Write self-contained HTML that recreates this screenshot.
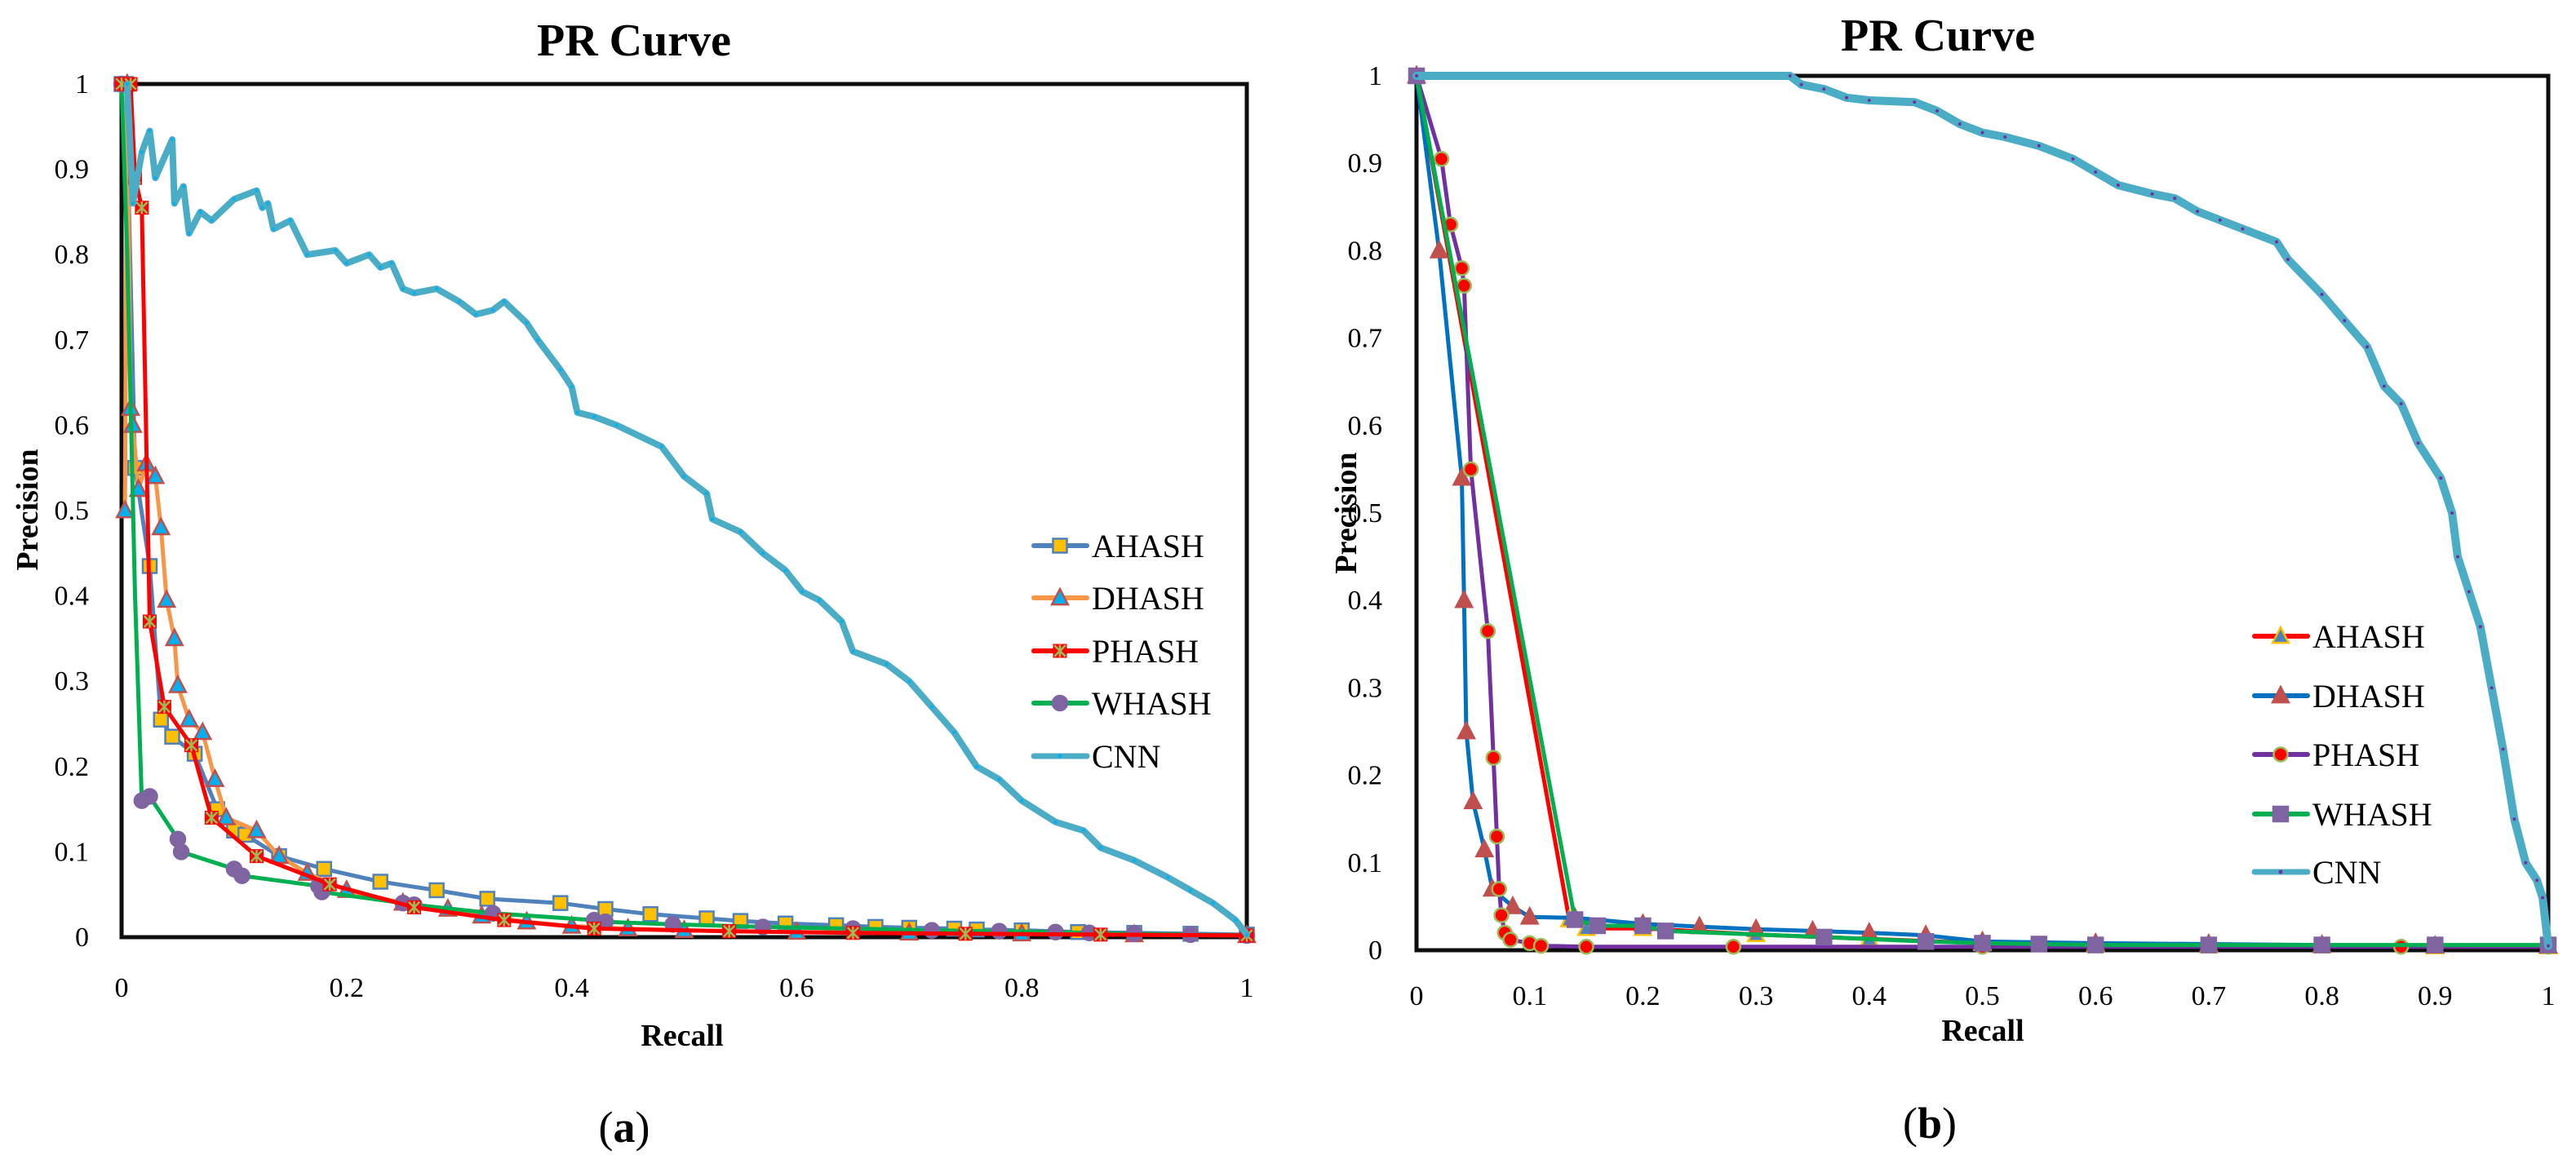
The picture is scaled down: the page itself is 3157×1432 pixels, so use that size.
<!DOCTYPE html>
<html><head><meta charset="utf-8"><style>
html,body{margin:0;padding:0;background:#fff;}
svg{display:block;font-family:"Liberation Serif",serif;}
</style></head><body>
<svg id="svg" width="3157" height="1432" viewBox="0 0 3157 1432" xmlns="http://www.w3.org/2000/svg">
<rect width="3157" height="1432" fill="#fff"/>
<g id="chartA"></g>
<g id="chartB"></g>
</svg>
<script>
// ---- Chart A data ----
const aTicksX = [0,0.2,0.4,0.6,0.8,1];
const aTicksXLabels = ["0","0.2","0.4","0.6","0.8","1"];
const aTicksY = [0,0.1,0.2,0.3,0.4,0.5,0.6,0.7,0.8,0.9,1];
const aTicksYLabels = ["0","0.1","0.2","0.3","0.4","0.5","0.6","0.7","0.8","0.9","1"];
const aCnnR = [0.005,0.01,0.018,0.025,0.03,0.045,0.047,0.055,0.06,0.07,0.08,0.1,0.12,0.125,0.13,0.135,0.15,0.165,0.19,0.2,0.22,0.23,0.24,0.25,0.26,0.28,0.3,0.315,0.33,0.34,0.36,0.37,0.39,0.4,0.405,0.42,0.44,0.48,0.5,0.52,0.525,0.55,0.57,0.59,0.605,0.62,0.64,0.65,0.68,0.7,0.72,0.74,0.76,0.78,0.8,0.83,0.855,0.87,0.9,0.93,0.95,0.97,0.99,1];
const aCnnP = [1,0.86,0.92,0.945,0.89,0.935,0.86,0.88,0.825,0.85,0.84,0.865,0.875,0.855,0.86,0.83,0.84,0.8,0.805,0.79,0.8,0.785,0.79,0.76,0.755,0.76,0.745,0.73,0.735,0.745,0.72,0.7,0.665,0.645,0.615,0.61,0.6,0.575,0.54,0.52,0.49,0.475,0.45,0.43,0.405,0.395,0.37,0.335,0.32,0.3,0.27,0.24,0.2,0.185,0.16,0.135,0.125,0.105,0.09,0.07,0.055,0.04,0.02,0.003];
const aAhR = [0,0.004,0.012,0.025,0.035,0.045,0.065,0.085,0.1,0.11,0.14,0.18,0.23,0.28,0.325,0.39,0.43,0.47,0.52,0.55,0.59,0.635,0.67,0.7,0.74,0.76,0.8,0.85,0.9,0.95,1];
const aAhP = [1,1,0.55,0.435,0.255,0.235,0.215,0.15,0.125,0.12,0.095,0.08,0.065,0.055,0.045,0.04,0.033,0.027,0.022,0.019,0.016,0.014,0.012,0.011,0.01,0.009,0.008,0.006,0.005,0.004,0.003];
const aDhR = [0.003,0.005,0.008,0.01,0.015,0.022,0.03,0.035,0.04,0.047,0.05,0.06,0.072,0.083,0.093,0.12,0.14,0.165,0.2,0.25,0.29,0.32,0.36,0.4,0.45,0.5,0.6,0.7,0.8,0.9,1];
const aDhP = [0.5,1,0.62,0.6,0.525,0.555,0.54,0.48,0.395,0.35,0.295,0.255,0.24,0.185,0.14,0.125,0.095,0.075,0.055,0.04,0.033,0.025,0.018,0.013,0.01,0.008,0.006,0.005,0.004,0.003,0.002];
const aPhR = [0,0.008,0.012,0.018,0.025,0.038,0.062,0.08,0.12,0.185,0.26,0.34,0.42,0.54,0.65,0.75,0.87,1];
const aPhP = [1,1,0.89,0.855,0.37,0.27,0.225,0.14,0.095,0.062,0.035,0.02,0.01,0.007,0.005,0.004,0.003,0.002];
const aWhR = [0,0.005,0.012,0.018,0.025,0.05,0.053,0.1,0.107,0.175,0.178,0.25,0.26,0.33,0.42,0.43,0.49,0.57,0.65,0.72,0.78,0.83,0.86,0.9,0.95,1];
const aWhP = [1,0.8,0.4,0.16,0.165,0.115,0.1,0.08,0.072,0.06,0.053,0.04,0.038,0.028,0.02,0.018,0.015,0.012,0.01,0.008,0.007,0.006,0.005,0.004,0.003,0.002];

// ---- Chart B data ----
const bTicksX = [0,0.1,0.2,0.3,0.4,0.5,0.6,0.7,0.8,0.9,1];
const bTicksXLabels = ["0","0.1","0.2","0.3","0.4","0.5","0.6","0.7","0.8","0.9","1"];
const bTicksY = [0,0.1,0.2,0.3,0.4,0.5,0.6,0.7,0.8,0.9,1];
const bTicksYLabels = ["0","0.1","0.2","0.3","0.4","0.5","0.6","0.7","0.8","0.9","1"];
const bCnnR = [0,0.33,0.34,0.36,0.38,0.4,0.44,0.46,0.48,0.5,0.52,0.55,0.58,0.6,0.62,0.65,0.67,0.69,0.71,0.73,0.76,0.77,0.8,0.82,0.84,0.855,0.87,0.885,0.905,0.915,0.92,0.93,0.94,0.95,0.96,0.97,0.98,0.99,0.995,1];
const bCnnP = [1,1,0.99,0.985,0.975,0.972,0.97,0.96,0.945,0.935,0.93,0.92,0.905,0.89,0.875,0.865,0.86,0.845,0.835,0.825,0.81,0.79,0.75,0.72,0.69,0.645,0.625,0.58,0.54,0.5,0.45,0.41,0.37,0.3,0.23,0.15,0.1,0.08,0.06,0.005];
const bAhR = [0,0.135,0.15,0.2,0.3,0.4,0.5,0.6,0.7,0.8,0.9,1];
const bAhP = [1,0.035,0.025,0.025,0.018,0.013,0.008,0.006,0.005,0.005,0.004,0.004];
const bDhR = [0,0.02,0.04,0.042,0.044,0.05,0.06,0.067,0.085,0.1,0.14,0.2,0.25,0.3,0.35,0.4,0.45,0.5,0.6,0.7,0.8,0.9,1];
const bDhP = [1,0.8,0.54,0.4,0.25,0.17,0.115,0.07,0.05,0.038,0.037,0.03,0.027,0.024,0.022,0.02,0.017,0.01,0.008,0.007,0.006,0.005,0.005];
const bPhR = [0,0.022,0.03,0.04,0.042,0.048,0.063,0.068,0.071,0.073,0.075,0.078,0.083,0.1,0.11,0.15,0.28,0.5,0.87,1];
const bPhP = [1,0.905,0.83,0.78,0.76,0.55,0.365,0.22,0.13,0.07,0.04,0.02,0.012,0.008,0.005,0.004,0.004,0.004,0.004,0.004];
const bWhR = [0,0.14,0.16,0.2,0.22,0.36,0.45,0.5,0.55,0.6,0.7,0.8,0.9,1];
const bWhP = [1,0.035,0.028,0.028,0.022,0.015,0.01,0.008,0.007,0.006,0.006,0.006,0.006,0.006];

const NS = "http://www.w3.org/2000/svg";
function mk(parent, tag, attrs){ const e=document.createElementNS(NS,tag); for(const k in attrs) e.setAttribute(k,attrs[k]); parent.appendChild(e); return e; }

function marker(g, shape, x, y, s, fill, stroke){
  let e;
  if(shape==="square"){ e=mk(g,"rect",{x:x-s/2,y:y-s/2,width:s,height:s,fill:fill,stroke:stroke,"stroke-width":2.5}); }
  else if(shape==="tri"){ e=mk(g,"polygon",{points:`${x},${y-s*0.6} ${x-s*0.55},${y+s*0.45} ${x+s*0.55},${y+s*0.45}`,fill:fill,stroke:stroke,"stroke-width":2.5}); }
  else if(shape==="xsq"){ e=mk(g,"g",{});
    mk(e,"rect",{x:x-s/2,y:y-s/2,width:s,height:s,fill:fill});
    mk(e,"path",{d:`M${x-s*0.4},${y-s*0.4}L${x+s*0.4},${y+s*0.4}M${x+s*0.4},${y-s*0.4}L${x-s*0.4},${y+s*0.4}M${x},${y-s*0.45}L${x},${y+s*0.45}`,stroke:stroke,"stroke-width":2.5}); }
  else if(shape==="circ"){ e=mk(g,"circle",{cx:x,cy:y,r:s/2,fill:fill,stroke:stroke,"stroke-width":2.5}); }
  else { e=mk(g,"circle",{cx:x,cy:y,r:s/2,fill:fill}); }
  return e;
}

function drawChart(root, cfg){
  const sx = v => cfg.x0 + v*(cfg.x1-cfg.x0);
  const sy = v => cfg.y0 - v*(cfg.y0-cfg.y1);
  const fr = mk(root,"rect",{x:cfg.x0,y:cfg.y1,width:cfg.x1-cfg.x0,height:cfg.y0-cfg.y1,fill:"none",stroke:"#0d0d0d","stroke-width":5});
  
  
  cfg.ticksY.forEach((v,i)=>{
    const t=mk(root,"text",{x:cfg.x0-cfg.yLabOff,y:sy(v)+11,"font-size":34,"text-anchor":"end",fill:"#000"});
    t.textContent=cfg.ticksYLabels[i];
    
    
  });
  cfg.ticksX.forEach((v,i)=>{
    const t=mk(root,"text",{x:sx(v),y:cfg.xLabY,"font-size":34,"text-anchor":"middle",fill:"#000"});
    t.textContent=cfg.ticksXLabels[i];
    
    
  });
  cfg.series.forEach(s=>{
    const g=mk(root,"g",{});
    
    
    const d=s.r.map((r,i)=>(i?"L":"M")+sx(r).toFixed(1)+","+sy(s.p[i]).toFixed(1)).join("");
    const p=mk(g,"path",{d:d,fill:"none",stroke:s.color,"stroke-width":s.w,"stroke-linejoin":"round","stroke-linecap":"round"});
    
    
    s.r.forEach((r,i)=>{
      if(s.skip && s.skip.indexOf(i)>=0) return;
      const m=marker(g,s.shape,sx(r),sy(s.p[i]),s.ms,s.mfill,s.mstroke);
      
      
    });
  });
  const lg=mk(root,"g",{});
  
  
  cfg.legendOrder.forEach((idx,k)=>{
    const s=cfg.series[idx];
    const y=cfg.legY[k];
    const e=mk(lg,"g",{});
    
    
    mk(e,"line",{x1:cfg.legX,y1:y,x2:cfg.legX+65,y2:y,stroke:s.color,"stroke-width":s.name==="CNN"?7:6,"stroke-linecap":"round"});
    marker(e,s.shape,cfg.legX+32,y,s.name==="CNN"?5:s.ms,s.mfill,s.mstroke);
    const t=mk(e,"text",{x:cfg.legX+71,y:y+14,"font-size":40,fill:"#000"});
    t.textContent=s.name;
  });
  const tt=mk(root,"text",{x:cfg.titleX,y:cfg.titleY,"font-size":56,"font-weight":"bold","text-anchor":"middle",fill:"#000"});
  tt.textContent="PR Curve";
  
  
  const xt=mk(root,"text",{x:cfg.recX,y:cfg.recY,"font-size":38,"font-weight":"bold","text-anchor":"middle",fill:"#000"});
  xt.textContent="Recall";
  
  
  const yt=mk(root,"text",{x:0,y:0,"font-size":38,"font-weight":"bold","text-anchor":"middle",fill:"#000",transform:`translate(${cfg.preX},${cfg.preY}) rotate(-90)`});
  yt.textContent="Precision";
  
  
  const sl=mk(root,"text",{x:cfg.subX,y:cfg.subY,"font-size":54,"text-anchor":"middle",fill:"#000"});
  sl.innerHTML='(<tspan font-weight="bold">'+cfg.sub+'</tspan>)';
  
  
}

drawChart(document.getElementById("chartA"),{
  x0:149,x1:1528,y0:1149,y1:103,yLabOff:40,xLabY:1222,
  ticksX:aTicksX,ticksXLabels:aTicksXLabels,ticksY:aTicksY,ticksYLabels:aTicksYLabels,
  series:[
    {name:"AHASH",r:aAhR,p:aAhP,color:"#4F81BD",w:5,shape:"square",ms:17,mfill:"#FFC000",mstroke:"#4F81BD"},
    {name:"DHASH",r:aDhR,p:aDhP,color:"#F79646",w:5,shape:"tri",ms:18,mfill:"#00B0F0",mstroke:"#C0504D"},
    {name:"WHASH",r:aWhR,p:aWhP,color:"#00B050",w:5,shape:"circ",ms:18,mfill:"#8064A2",mstroke:"#8064A2",skip:[1,2]},
    {name:"PHASH",r:aPhR,p:aPhP,color:"#FF0000",w:5,shape:"xsq",ms:17,mfill:"#FF0000",mstroke:"#9BBB59"},
    {name:"CNN",r:aCnnR,p:aCnnP,color:"#4BACC6",w:8,shape:"dot",ms:4,mfill:"#00B0F0",mstroke:"none"}
  ],
  legendOrder:[0,1,3,2,4], legX:1267, legY:[669,733,798,862,927],
  titleX:777,titleY:68,recX:836,recY:1282,preX:46,preY:625,subX:765,subY:1400,sub:"a"
});

drawChart(document.getElementById("chartB"),{
  x0:1736,x1:3123,y0:1165,y1:93,yLabOff:42,xLabY:1232,
  ticksX:bTicksX,ticksXLabels:bTicksXLabels,ticksY:bTicksY,ticksYLabels:bTicksYLabels,
  series:[
    {name:"AHASH",r:bAhR,p:bAhP,color:"#FF0000",w:5,shape:"tri",ms:18,mfill:"#4F81BD",mstroke:"#FFC000"},
    {name:"DHASH",r:bDhR,p:bDhP,color:"#0070C0",w:5,shape:"tri",ms:18,mfill:"#C0504D",mstroke:"#C0504D"},
    {name:"PHASH",r:bPhR,p:bPhP,color:"#7030A0",w:5,shape:"circ",ms:17,mfill:"#FF0000",mstroke:"#9BBB59"},
    {name:"WHASH",r:bWhR,p:bWhP,color:"#00B050",w:5,shape:"square",ms:18,mfill:"#8064A2",mstroke:"#8064A2"},
    {name:"CNN",r:bCnnR,p:bCnnP,color:"#4BACC6",w:10,shape:"dot",ms:4,mfill:"#7030A0",mstroke:"none"}
  ],
  legendOrder:[0,1,2,3,4], legX:2763, legY:[780,853,925,998,1069],
  titleX:2375,titleY:62,recX:2430,recY:1276,preX:1662,preY:629,subX:2365,subY:1395,sub:"b"
});
</script>
</body></html>
